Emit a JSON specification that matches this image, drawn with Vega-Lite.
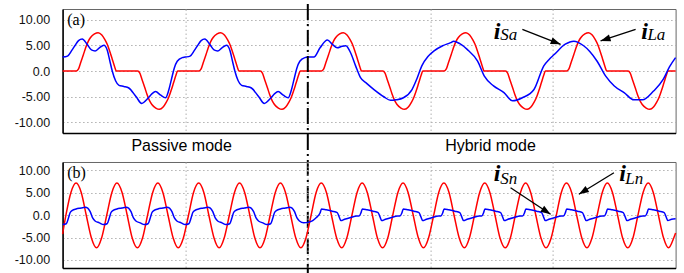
{
"$schema": "https://vega.github.io/schema/vega-lite/v6.json",
"padding": {"left": 13.6, "top": 2, "right": 5, "bottom": 0},
"background": "white",
"bounds": "flush",
"spacing": 29,
"config": {
 "view": {"stroke": "#666", "strokeWidth": 1},
 "axis": {"domainColor": "#000", "domainWidth": 1.5, "ticks": false, "tickSize": 0, "gridColor": "#b0b0b0", "gridDash": [1.5, 2.5], "gridWidth": 1, "labelFont": "Liberation Sans", "labelFontSize": 12.5, "labelColor": "#111", "title": null}
},
"datasets": {
 "aL": [{"t":0,"v":0},
 {"t":0.112,"v":0},{"t":0.13,"v":0.4},{"t":0.147,"v":1.6},{"t":0.17,"v":3.2},{"t":0.188,"v":4.5},{"t":0.21,"v":5.8},{"t":0.228,"v":6.5},{"t":0.26,"v":7.2},{"t":0.29,"v":7.45},{"t":0.32,"v":7.0},{"t":0.345,"v":6.1},{"t":0.364,"v":5.2},{"t":0.385,"v":3.8},{"t":0.405,"v":2.3},{"t":0.425,"v":0.8},{"t":0.438,"v":0},
 {"t":0.612,"v":0},{"t":0.63,"v":-0.4},{"t":0.647,"v":-1.6},{"t":0.67,"v":-3.2},{"t":0.688,"v":-4.5},{"t":0.71,"v":-5.8},{"t":0.728,"v":-6.5},{"t":0.76,"v":-7.2},{"t":0.79,"v":-7.45},{"t":0.82,"v":-7.0},{"t":0.845,"v":-6.1},{"t":0.864,"v":-5.2},{"t":0.885,"v":-3.8},{"t":0.905,"v":-2.3},{"t":0.925,"v":-0.8},{"t":0.938,"v":0},
 {"t":1.112,"v":0},{"t":1.13,"v":0.4},{"t":1.147,"v":1.6},{"t":1.17,"v":3.2},{"t":1.188,"v":4.5},{"t":1.21,"v":5.8},{"t":1.228,"v":6.5},{"t":1.26,"v":7.2},{"t":1.29,"v":7.45},{"t":1.32,"v":7.0},{"t":1.345,"v":6.1},{"t":1.364,"v":5.2},{"t":1.385,"v":3.8},{"t":1.405,"v":2.3},{"t":1.425,"v":0.8},{"t":1.438,"v":0},
 {"t":1.612,"v":0},{"t":1.63,"v":-0.4},{"t":1.647,"v":-1.6},{"t":1.67,"v":-3.2},{"t":1.688,"v":-4.5},{"t":1.71,"v":-5.8},{"t":1.728,"v":-6.5},{"t":1.76,"v":-7.2},{"t":1.79,"v":-7.45},{"t":1.82,"v":-7.0},{"t":1.845,"v":-6.1},{"t":1.864,"v":-5.2},{"t":1.885,"v":-3.8},{"t":1.905,"v":-2.3},{"t":1.925,"v":-0.8},{"t":1.938,"v":0},
 {"t":2.112,"v":0},{"t":2.13,"v":0.4},{"t":2.147,"v":1.6},{"t":2.17,"v":3.2},{"t":2.188,"v":4.5},{"t":2.21,"v":5.8},{"t":2.228,"v":6.5},{"t":2.26,"v":7.2},{"t":2.29,"v":7.45},{"t":2.32,"v":7.0},{"t":2.345,"v":6.1},{"t":2.364,"v":5.2},{"t":2.385,"v":3.8},{"t":2.405,"v":2.3},{"t":2.425,"v":0.8},{"t":2.438,"v":0},
 {"t":2.612,"v":0},{"t":2.63,"v":-0.4},{"t":2.647,"v":-1.6},{"t":2.67,"v":-3.2},{"t":2.688,"v":-4.5},{"t":2.71,"v":-5.8},{"t":2.728,"v":-6.5},{"t":2.76,"v":-7.2},{"t":2.79,"v":-7.45},{"t":2.82,"v":-7.0},{"t":2.845,"v":-6.1},{"t":2.864,"v":-5.2},{"t":2.885,"v":-3.8},{"t":2.905,"v":-2.3},{"t":2.925,"v":-0.8},{"t":2.938,"v":0},
 {"t":3.112,"v":0},{"t":3.13,"v":0.4},{"t":3.147,"v":1.6},{"t":3.17,"v":3.2},{"t":3.188,"v":4.5},{"t":3.21,"v":5.8},{"t":3.228,"v":6.5},{"t":3.26,"v":7.2},{"t":3.29,"v":7.45},{"t":3.32,"v":7.0},{"t":3.345,"v":6.1},{"t":3.364,"v":5.2},{"t":3.385,"v":3.8},{"t":3.405,"v":2.3},{"t":3.425,"v":0.8},{"t":3.438,"v":0},
 {"t":3.612,"v":0},{"t":3.63,"v":-0.4},{"t":3.647,"v":-1.6},{"t":3.67,"v":-3.2},{"t":3.688,"v":-4.5},{"t":3.71,"v":-5.8},{"t":3.728,"v":-6.5},{"t":3.76,"v":-7.2},{"t":3.79,"v":-7.45},{"t":3.82,"v":-7.0},{"t":3.845,"v":-6.1},{"t":3.864,"v":-5.2},{"t":3.885,"v":-3.8},{"t":3.905,"v":-2.3},{"t":3.925,"v":-0.8},{"t":3.938,"v":0},
 {"t":4.112,"v":0},{"t":4.13,"v":0.4},{"t":4.147,"v":1.6},{"t":4.17,"v":3.2},{"t":4.188,"v":4.5},{"t":4.21,"v":5.8},{"t":4.228,"v":6.5},{"t":4.26,"v":7.2},{"t":4.29,"v":7.45},{"t":4.32,"v":7.0},{"t":4.345,"v":6.1},{"t":4.364,"v":5.2},{"t":4.385,"v":3.8},{"t":4.405,"v":2.3},{"t":4.425,"v":0.8},{"t":4.438,"v":0},
 {"t":4.612,"v":0},{"t":4.63,"v":-0.4},{"t":4.647,"v":-1.6},{"t":4.67,"v":-3.2},{"t":4.688,"v":-4.5},{"t":4.71,"v":-5.8},{"t":4.728,"v":-6.5},{"t":4.76,"v":-7.2},{"t":4.79,"v":-7.45},{"t":4.82,"v":-7.0},{"t":4.845,"v":-6.1},{"t":4.864,"v":-5.2},{"t":4.885,"v":-3.8},{"t":4.905,"v":-2.3},{"t":4.925,"v":-0.8},{"t":4.938,"v":0},
 {"t":5,"v":0}],
 "aS": [
 {"t":0,"v":2.7},{"t":0.04,"v":2.9},{"t":0.075,"v":4.0},{"t":0.1,"v":4.9},{"t":0.13,"v":5.9},{"t":0.16,"v":6.2},{"t":0.2,"v":5.2},{"t":0.235,"v":4.1},{"t":0.265,"v":3.9},{"t":0.3,"v":4.5},{"t":0.337,"v":5.0},{"t":0.365,"v":4.0},{"t":0.385,"v":2.0},{"t":0.405,"v":0},{"t":0.432,"v":-1.9},{"t":0.46,"v":-2.8},{"t":0.5,"v":-3.0},{"t":0.54,"v":-3.3},{"t":0.6,"v":-5.0},{"t":0.645,"v":-6.3},{"t":0.7,"v":-5.2},{"t":0.73,"v":-4.4},{"t":0.758,"v":-4.0},{"t":0.8,"v":-4.7},{"t":0.84,"v":-5.2},{"t":0.865,"v":-3.8},{"t":0.888,"v":-1.6},{"t":0.91,"v":0.5},{"t":0.935,"v":1.9},{"t":0.976,"v":2.6},
 {"t":1.0,"v":2.7},{"t":1.04,"v":2.9},{"t":1.075,"v":4.0},{"t":1.1,"v":4.9},{"t":1.13,"v":5.9},{"t":1.16,"v":6.2},{"t":1.2,"v":5.2},{"t":1.235,"v":4.1},{"t":1.265,"v":3.9},{"t":1.3,"v":4.5},{"t":1.337,"v":5.0},{"t":1.365,"v":4.0},{"t":1.385,"v":2.0},{"t":1.405,"v":0},{"t":1.432,"v":-1.9},{"t":1.46,"v":-2.8},{"t":1.5,"v":-3.0},{"t":1.54,"v":-3.3},{"t":1.6,"v":-5.0},{"t":1.645,"v":-6.3},{"t":1.7,"v":-5.2},{"t":1.73,"v":-4.4},{"t":1.758,"v":-4.0},{"t":1.8,"v":-4.7},{"t":1.84,"v":-5.2},{"t":1.865,"v":-3.8},{"t":1.888,"v":-1.6},{"t":1.91,"v":0.5},{"t":1.935,"v":1.9},{"t":1.976,"v":2.6},
 {"t":2.0,"v":2.7},{"t":2.05,"v":2.7},{"t":2.1,"v":4.5},{"t":2.16,"v":6.0},{"t":2.2,"v":5.2},{"t":2.24,"v":4.5},{"t":2.28,"v":4.8},{"t":2.31,"v":4.9},{"t":2.35,"v":3.5},{"t":2.39,"v":1.0},{"t":2.43,"v":-1.3},{"t":2.48,"v":-2.4},{"t":2.54,"v":-3.6},{"t":2.62,"v":-5.0},{"t":2.675,"v":-5.7},{"t":2.72,"v":-5.6},{"t":2.78,"v":-5.2},{"t":2.85,"v":-3.6},{"t":2.89,"v":-1.5},{"t":2.93,"v":1.0},{"t":2.98,"v":2.8},{"t":3.03,"v":3.9},{"t":3.1,"v":4.9},{"t":3.165,"v":5.5},{"t":3.19,"v":5.8},{"t":3.24,"v":5.3},{"t":3.3,"v":4.2},{"t":3.385,"v":1.9},{"t":3.44,"v":-1.0},{"t":3.515,"v":-2.9},{"t":3.6,"v":-4.2},{"t":3.67,"v":-5.8},{"t":3.75,"v":-5.2},{"t":3.845,"v":-3.6},{"t":3.925,"v":1.0},{"t":3.97,"v":2.3},{"t":4.01,"v":3.2},{"t":4.1,"v":5.2},{"t":4.17,"v":5.8},{"t":4.25,"v":4.9},{"t":4.3,"v":3.8},{"t":4.36,"v":1.9},{"t":4.43,"v":-1.0},{"t":4.5,"v":-2.9},{"t":4.58,"v":-4.2},{"t":4.66,"v":-5.6},{"t":4.73,"v":-5.6},{"t":4.82,"v":-3.9},{"t":4.9,"v":-1.6},{"t":4.95,"v":0.8},{"t":5.0,"v":2.6}],
 "bL": [{"t":0,"v":-4.2},
 {"t":0.027,"v":0},{"t":0.068,"v":5.1},{"t":0.11,"v":7.2},{"t":0.152,"v":5.1},{"t":0.193,"v":0},{"t":0.235,"v":-5.1},{"t":0.277,"v":-7.3},{"t":0.318,"v":-5.1},
 {"t":0.36,"v":0},{"t":0.402,"v":5.1},{"t":0.443,"v":7.2},{"t":0.485,"v":5.1},{"t":0.527,"v":0},{"t":0.568,"v":-5.1},{"t":0.61,"v":-7.3},{"t":0.652,"v":-5.1},
 {"t":0.693,"v":0},{"t":0.735,"v":5.1},{"t":0.777,"v":7.2},{"t":0.818,"v":5.1},{"t":0.86,"v":0},{"t":0.902,"v":-5.1},{"t":0.943,"v":-7.3},{"t":0.985,"v":-5.1},
 {"t":1.027,"v":0},{"t":1.068,"v":5.1},{"t":1.11,"v":7.2},{"t":1.152,"v":5.1},{"t":1.193,"v":0},{"t":1.235,"v":-5.1},{"t":1.277,"v":-7.3},{"t":1.318,"v":-5.1},
 {"t":1.36,"v":0},{"t":1.402,"v":5.1},{"t":1.443,"v":7.2},{"t":1.485,"v":5.1},{"t":1.527,"v":0},{"t":1.568,"v":-5.1},{"t":1.61,"v":-7.3},{"t":1.652,"v":-5.1},
 {"t":1.693,"v":0},{"t":1.735,"v":5.1},{"t":1.777,"v":7.2},{"t":1.818,"v":5.1},{"t":1.86,"v":0},{"t":1.902,"v":-5.1},{"t":1.943,"v":-7.3},{"t":1.985,"v":-5.1},
 {"t":2.027,"v":0},{"t":2.068,"v":5.1},{"t":2.11,"v":7.2},{"t":2.152,"v":5.1},{"t":2.193,"v":0},{"t":2.235,"v":-5.1},{"t":2.277,"v":-7.3},{"t":2.318,"v":-5.1},
 {"t":2.36,"v":0},{"t":2.402,"v":5.1},{"t":2.443,"v":7.2},{"t":2.485,"v":5.1},{"t":2.527,"v":0},{"t":2.568,"v":-5.1},{"t":2.61,"v":-7.3},{"t":2.652,"v":-5.1},
 {"t":2.693,"v":0},{"t":2.735,"v":5.1},{"t":2.777,"v":7.2},{"t":2.818,"v":5.1},{"t":2.86,"v":0},{"t":2.902,"v":-5.1},{"t":2.943,"v":-7.3},{"t":2.985,"v":-5.1},
 {"t":3.027,"v":0},{"t":3.068,"v":5.1},{"t":3.11,"v":7.2},{"t":3.152,"v":5.1},{"t":3.193,"v":0},{"t":3.235,"v":-5.1},{"t":3.277,"v":-7.3},{"t":3.318,"v":-5.1},
 {"t":3.36,"v":0},{"t":3.402,"v":5.1},{"t":3.443,"v":7.2},{"t":3.485,"v":5.1},{"t":3.527,"v":0},{"t":3.568,"v":-5.1},{"t":3.61,"v":-7.3},{"t":3.652,"v":-5.1},
 {"t":3.693,"v":0},{"t":3.735,"v":5.1},{"t":3.777,"v":7.2},{"t":3.818,"v":5.1},{"t":3.86,"v":0},{"t":3.902,"v":-5.1},{"t":3.943,"v":-7.3},{"t":3.985,"v":-5.1},
 {"t":4.027,"v":0},{"t":4.068,"v":5.1},{"t":4.11,"v":7.2},{"t":4.152,"v":5.1},{"t":4.193,"v":0},{"t":4.235,"v":-5.1},{"t":4.277,"v":-7.3},{"t":4.318,"v":-5.1},
 {"t":4.36,"v":0},{"t":4.402,"v":5.1},{"t":4.443,"v":7.2},{"t":4.485,"v":5.1},{"t":4.527,"v":0},{"t":4.568,"v":-5.1},{"t":4.61,"v":-7.3},{"t":4.652,"v":-5.1},
 {"t":4.693,"v":0},{"t":4.735,"v":5.1},{"t":4.777,"v":7.2},{"t":4.818,"v":5.1},{"t":4.86,"v":0},{"t":4.902,"v":-5.1},{"t":4.943,"v":-7.3},{"t":4.985,"v":-5.1},
 {"t":5.0,"v":-4.0}],
 "bS": [
 {"t":0,"v":-2.1},{"t":0.03,"v":-1.9},{"t":0.048,"v":-0.6},{"t":0.062,"v":0.6},{"t":0.08,"v":1.1},{"t":0.11,"v":1.4},{"t":0.15,"v":1.6},{"t":0.185,"v":1.8},{"t":0.205,"v":1.6},{"t":0.225,"v":0.8},{"t":0.245,"v":-0.6},{"t":0.265,"v":-1.3},{"t":0.3,"v":-1.7},
 {"t":0.333,"v":-2.1},{"t":0.363,"v":-1.9},{"t":0.381,"v":-0.6},{"t":0.395,"v":0.6},{"t":0.413,"v":1.1},{"t":0.443,"v":1.4},{"t":0.483,"v":1.6},{"t":0.518,"v":1.8},{"t":0.538,"v":1.6},{"t":0.558,"v":0.8},{"t":0.578,"v":-0.6},{"t":0.598,"v":-1.3},{"t":0.633,"v":-1.7},
 {"t":0.667,"v":-2.1},{"t":0.697,"v":-1.9},{"t":0.715,"v":-0.6},{"t":0.729,"v":0.6},{"t":0.747,"v":1.1},{"t":0.777,"v":1.4},{"t":0.817,"v":1.6},{"t":0.852,"v":1.8},{"t":0.872,"v":1.6},{"t":0.892,"v":0.8},{"t":0.912,"v":-0.6},{"t":0.932,"v":-1.3},{"t":0.967,"v":-1.7},
 {"t":1.0,"v":-2.1},{"t":1.03,"v":-1.9},{"t":1.048,"v":-0.6},{"t":1.062,"v":0.6},{"t":1.08,"v":1.1},{"t":1.11,"v":1.4},{"t":1.15,"v":1.6},{"t":1.185,"v":1.8},{"t":1.205,"v":1.6},{"t":1.225,"v":0.8},{"t":1.245,"v":-0.6},{"t":1.265,"v":-1.3},{"t":1.3,"v":-1.7},
 {"t":1.333,"v":-2.1},{"t":1.363,"v":-1.9},{"t":1.381,"v":-0.6},{"t":1.395,"v":0.6},{"t":1.413,"v":1.1},{"t":1.443,"v":1.4},{"t":1.483,"v":1.6},{"t":1.518,"v":1.8},{"t":1.538,"v":1.6},{"t":1.558,"v":0.8},{"t":1.578,"v":-0.6},{"t":1.598,"v":-1.3},{"t":1.633,"v":-1.7},
 {"t":1.667,"v":-2.1},{"t":1.697,"v":-1.9},{"t":1.715,"v":-0.6},{"t":1.729,"v":0.6},{"t":1.747,"v":1.1},{"t":1.777,"v":1.4},{"t":1.817,"v":1.6},{"t":1.852,"v":1.8},{"t":1.872,"v":1.6},{"t":1.892,"v":0.8},{"t":1.912,"v":-0.6},{"t":1.932,"v":-1.3},{"t":1.967,"v":-1.7},
 {"t":2.0,"v":-1.6},{"t":2.04,"v":-1.2},{"t":2.07,"v":-0.5},
 {"t":2.1,"v":0.5},{"t":2.112,"v":1.4},{"t":2.15,"v":1.2},{"t":2.2,"v":0.9},{"t":2.24,"v":0.6},{"t":2.255,"v":-0.3},{"t":2.27,"v":-1.2},{"t":2.3,"v":-0.9},{"t":2.35,"v":-0.5},{"t":2.4,"v":-0.2},{"t":2.418,"v":-0.2},
 {"t":2.433,"v":0.5},{"t":2.445,"v":1.4},{"t":2.483,"v":1.2},{"t":2.533,"v":0.9},{"t":2.573,"v":0.6},{"t":2.588,"v":-0.3},{"t":2.603,"v":-1.2},{"t":2.633,"v":-0.9},{"t":2.683,"v":-0.5},{"t":2.733,"v":-0.2},{"t":2.751,"v":-0.2},
 {"t":2.767,"v":0.5},{"t":2.779,"v":1.4},{"t":2.817,"v":1.2},{"t":2.867,"v":0.9},{"t":2.907,"v":0.6},{"t":2.922,"v":-0.3},{"t":2.937,"v":-1.2},{"t":2.967,"v":-0.9},{"t":3.017,"v":-0.5},{"t":3.067,"v":-0.2},{"t":3.085,"v":-0.2},
 {"t":3.1,"v":0.5},{"t":3.112,"v":1.4},{"t":3.15,"v":1.2},{"t":3.2,"v":0.9},{"t":3.24,"v":0.6},{"t":3.255,"v":-0.3},{"t":3.27,"v":-1.2},{"t":3.3,"v":-0.9},{"t":3.35,"v":-0.5},{"t":3.4,"v":-0.2},{"t":3.418,"v":-0.2},
 {"t":3.433,"v":0.5},{"t":3.445,"v":1.4},{"t":3.483,"v":1.2},{"t":3.533,"v":0.9},{"t":3.573,"v":0.6},{"t":3.588,"v":-0.3},{"t":3.603,"v":-1.2},{"t":3.633,"v":-0.9},{"t":3.683,"v":-0.5},{"t":3.733,"v":-0.2},{"t":3.751,"v":-0.2},
 {"t":3.767,"v":0.5},{"t":3.779,"v":1.4},{"t":3.817,"v":1.2},{"t":3.867,"v":0.9},{"t":3.907,"v":0.6},{"t":3.922,"v":-0.3},{"t":3.937,"v":-1.2},{"t":3.967,"v":-0.9},{"t":4.017,"v":-0.5},{"t":4.067,"v":-0.2},{"t":4.085,"v":-0.2},
 {"t":4.1,"v":0.5},{"t":4.112,"v":1.4},{"t":4.15,"v":1.2},{"t":4.2,"v":0.9},{"t":4.24,"v":0.6},{"t":4.255,"v":-0.3},{"t":4.27,"v":-1.2},{"t":4.3,"v":-0.9},{"t":4.35,"v":-0.5},{"t":4.4,"v":-0.2},{"t":4.418,"v":-0.2},
 {"t":4.433,"v":0.5},{"t":4.445,"v":1.4},{"t":4.483,"v":1.2},{"t":4.533,"v":0.9},{"t":4.573,"v":0.6},{"t":4.588,"v":-0.3},{"t":4.603,"v":-1.2},{"t":4.633,"v":-0.9},{"t":4.683,"v":-0.5},{"t":4.733,"v":-0.2},{"t":4.751,"v":-0.2},
 {"t":4.767,"v":0.5},{"t":4.779,"v":1.4},{"t":4.817,"v":1.2},{"t":4.867,"v":0.9},{"t":4.907,"v":0.6},{"t":4.922,"v":-0.3},{"t":4.937,"v":-1.2},{"t":4.967,"v":-0.9},{"t":5.0,"v":-0.8}]
},
"vconcat": [
 {
  "width": 613, "height": 124,
  "encoding": {
   "x": {"field": "t", "type": "quantitative", "scale": {"domain": [0, 5], "nice": false, "zero": false}, "axis": {"values": [1, 2, 3, 4], "labels": false, "grid": true, "title": null}},
   "y": {"field": "v", "type": "quantitative", "scale": {"domain": [-12.04, 12.04], "nice": false, "zero": false}, "axis": {"values": [-10, -5, 0, 5, 10], "grid": true, "labelPadding": 13, "title": null, "labelExpr": "datum.value == 0 ? '0.0' : (datum.value < 0 ? '-' : '') + format(abs(datum.value), '.2f')"}}
  },
  "layer": [
   {"data": {"name": "aL"}, "mark": {"type": "line", "color": "#ff0000", "strokeWidth": 1.5, "interpolate": "monotone"}},
   {"data": {"name": "aS"}, "mark": {"type": "line", "color": "#0000ff", "strokeWidth": 1.5, "interpolate": "monotone"}},
   {"data": {"values": [{"t": 2, "v": 13.0, "v2": -39.4}]}, "mark": {"type": "rule", "color": "#000", "strokeWidth": 2, "strokeDash": [16, 4, 2, 4]}, "encoding": {"y2": {"field": "v2"}}},
   {"data": {"values": [{"t": 0.038, "v": 9.0, "label": "(a)"}]}, "mark": {"type": "text", "align": "left", "baseline": "alphabetic", "font": "Liberation Serif", "fontSize": 16, "color": "#000"}, "encoding": {"text": {"field": "label"}}},
   {"data": {"values": [{"t": 0.971, "v": -15.54, "label": "Passive mode"}, {"t": 3.49, "v": -15.54, "label": "Hybrid mode"}]}, "mark": {"type": "text", "align": "center", "baseline": "alphabetic", "font": "Liberation Sans", "fontSize": 16, "color": "#000"}, "encoding": {"text": {"field": "label"}}},
   {"data": {"values": [{"t": 3.516, "v": 6.15, "label": "i"}, {"t": 4.72, "v": 6.15, "label": "i"}]}, "mark": {"type": "text", "align": "left", "baseline": "alphabetic", "font": "Liberation Serif", "fontSize": 24, "fontStyle": "italic", "fontWeight": "bold", "color": "#000"}, "encoding": {"text": {"field": "label"}}},
   {"data": {"values": [{"t": 3.57, "v": 6.0, "label": "Sa"}, {"t": 4.77, "v": 6.0, "label": "La"}]}, "mark": {"type": "text", "align": "left", "baseline": "alphabetic", "font": "Liberation Serif", "fontSize": 17, "fontStyle": "italic", "color": "#000"}, "encoding": {"text": {"field": "label"}}},
   {"data": {"values": [{"t": 3.75, "v": 8.1, "t2": 4.062, "v2": 5.18}, {"t": 4.674, "v": 8.1, "t2": 4.388, "v2": 5.83}]}, "mark": {"type": "rule", "color": "#000", "strokeWidth": 1.3}, "encoding": {"x2": {"field": "t2"}, "y2": {"field": "v2"}}},
   {"data": {"values": [{"t": 4.062, "v": 5.18}]}, "mark": {"type": "point", "shape": "M0,0L-1,-0.35L-1,0.35Z", "filled": true, "color": "#000", "opacity": 1, "size": 400, "angle": 21.4}},
   {"data": {"values": [{"t": 4.388, "v": 5.83}]}, "mark": {"type": "point", "shape": "M0,0L-1,-0.35L-1,0.35Z", "filled": true, "color": "#000", "opacity": 1, "size": 400, "angle": 161.5}}
  ]
 },
 {
  "width": 613, "height": 106,
  "encoding": {
   "x": {"field": "t", "type": "quantitative", "scale": {"domain": [0, 5], "nice": false, "zero": false}, "axis": {"values": [1, 2, 3, 4], "labels": false, "grid": true, "title": null}},
   "y": {"field": "v", "type": "quantitative", "scale": {"domain": [-11.8, 11.9], "nice": false, "zero": false}, "axis": {"values": [-10, -5, 0, 5, 10], "grid": true, "labelPadding": 13, "title": null, "labelExpr": "datum.value == 0 ? '0.0' : (datum.value < 0 ? '-' : '') + format(abs(datum.value), '.2f')"}}
  },
  "layer": [
   {"data": {"name": "bL"}, "mark": {"type": "line", "color": "#ff0000", "strokeWidth": 1.5, "interpolate": "monotone"}},
   {"data": {"name": "bS"}, "mark": {"type": "line", "color": "#0000ff", "strokeWidth": 1.5, "interpolate": "monotone"}},
   {"data": {"values": [{"t": 0.038, "v": 8.4, "label": "(b)"}]}, "mark": {"type": "text", "align": "left", "baseline": "alphabetic", "font": "Liberation Serif", "fontSize": 16, "color": "#000"}, "encoding": {"text": {"field": "label"}}},
   {"data": {"values": [{"t": 3.516, "v": 7.65, "label": "i"}, {"t": 4.54, "v": 7.65, "label": "i"}]}, "mark": {"type": "text", "align": "left", "baseline": "alphabetic", "font": "Liberation Serif", "fontSize": 24, "fontStyle": "italic", "fontWeight": "bold", "color": "#000"}, "encoding": {"text": {"field": "label"}}},
   {"data": {"values": [{"t": 3.57, "v": 7.0, "label": "Sn"}, {"t": 4.59, "v": 7.0, "label": "Ln"}]}, "mark": {"type": "text", "align": "left", "baseline": "alphabetic", "font": "Liberation Serif", "fontSize": 17, "fontStyle": "italic", "color": "#000"}, "encoding": {"text": {"field": "label"}}},
   {"data": {"values": [{"t": 3.654, "v": 6.15, "t2": 3.98, "v2": 0.21}, {"t": 4.497, "v": 9.51, "t2": 4.211, "v2": 4.68}]}, "mark": {"type": "rule", "color": "#000", "strokeWidth": 1.3}, "encoding": {"x2": {"field": "t2"}, "y2": {"field": "v2"}}},
   {"data": {"values": [{"t": 3.98, "v": 0.21}]}, "mark": {"type": "point", "shape": "M0,0L-1,-0.35L-1,0.35Z", "filled": true, "color": "#000", "opacity": 1, "size": 400, "angle": 33.7}},
   {"data": {"values": [{"t": 4.211, "v": 4.68}]}, "mark": {"type": "point", "shape": "M0,0L-1,-0.35L-1,0.35Z", "filled": true, "color": "#000", "opacity": 1, "size": 400, "angle": 148.2}}
  ]
 }
]
}
